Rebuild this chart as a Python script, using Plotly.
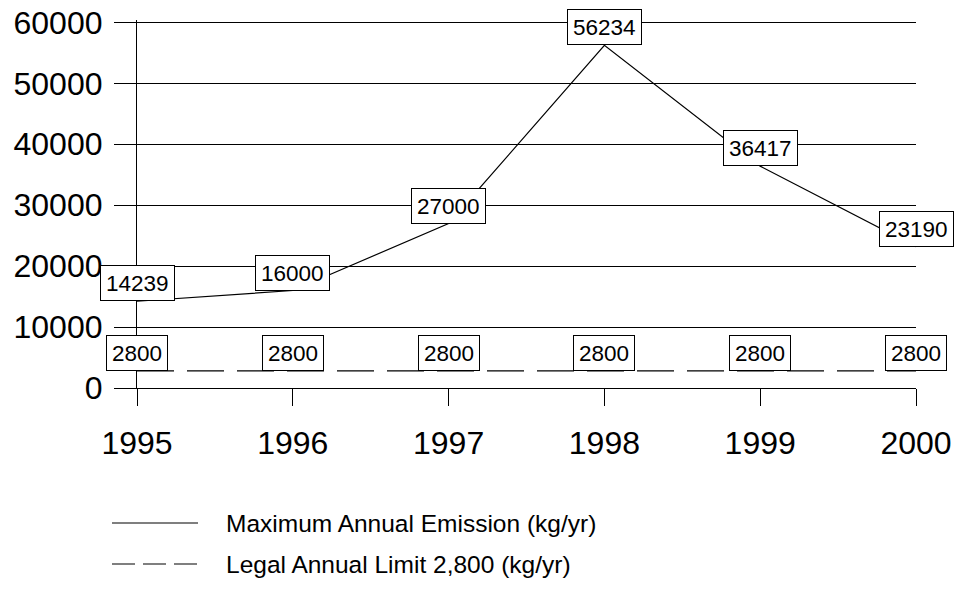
import plotly.graph_objects as go

years = [1995, 1996, 1997, 1998, 1999, 2000]
max_emission = [14239, 16000, 27000, 56234, 36417, 23190]
legal_limit = [2800, 2800, 2800, 2800, 2800, 2800]
y_ticks = [0, 10000, 20000, 30000, 40000, 50000, 60000]
series_names = ["Maximum Annual Emission (kg/yr)", "Legal Annual Limit 2,800 (kg/yr)"]

FONT = "Arial, Liberation Sans, sans-serif"
W, H = 957, 596
ML, MR, MT, MB = 137, 41, 20, 208
PW, PH = W - ML - MR, H - MT - MB


def px_x(p):
    return (p - ML) / PW


def px_y(p):
    return (H - MB - p) / PH


fig = go.Figure()
fig.add_trace(go.Scatter(
    x=years, y=max_emission, mode="lines", name=series_names[0],
    line=dict(color="black", width=1.2), showlegend=False))
fig.add_trace(go.Scatter(
    x=years, y=legal_limit, mode="lines", name=series_names[1],
    line=dict(color="black", width=1.2, dash="37px,13px"), showlegend=False))

for xs, ys in [(years, max_emission), (years, legal_limit)]:
    for xv, yv in zip(xs, ys):
        txt = str(yv)
        fig.add_annotation(
            x=xv, y=yv, text=txt, showarrow=False,
            xanchor="center", yanchor="bottom",
            font=dict(family=FONT, size=22.5, color="black"),
            width=len(txt) * 12.5 + 2, height=26,
            bgcolor="white", bordercolor="black", borderwidth=1, borderpad=4)

# legend (line samples + labels)
legend_rows = [(523, None), (564, "23px,8px")]
for (yy, dash), name in zip(legend_rows, series_names):
    fig.add_shape(type="line", xref="paper", yref="paper",
                  x0=px_x(112), x1=px_x(198), y0=px_y(yy), y1=px_y(yy),
                  line=dict(color="black", width=1.2, dash=dash))
    fig.add_annotation(xref="paper", yref="paper", x=px_x(224), y=px_y(yy),
                       text=name, showarrow=False, xanchor="left", yanchor="middle",
                       font=dict(family=FONT, size=24.5, color="black"))

fig.update_layout(
    width=W, height=H,
    margin=dict(l=ML, r=MR, t=MT, b=MB, autoexpand=False),
    paper_bgcolor="white", plot_bgcolor="white",
    font=dict(family=FONT, color="black"),
    showlegend=False,
    xaxis=dict(
        range=[1995, 2000], tickmode="array", tickvals=years,
        ticktext=[str(y) for y in years],
        showgrid=False, zeroline=False,
        showline=True, linecolor="black", linewidth=1.2,
        ticks="outside", ticklen=17, tickcolor="black", tickwidth=1.2,
        tickfont=dict(family=FONT, size=32, color="black"),
        ticklabelstandoff=9,
    ),
    yaxis=dict(
        range=[0, 60400], tickmode="array", tickvals=y_ticks,
        ticktext=[str(v) for v in y_ticks],
        showgrid=True, gridcolor="black", gridwidth=1.2,
        zeroline=False,
        showline=True, linecolor="black", linewidth=1.2,
        ticks="outside", ticklen=22, tickcolor="black", tickwidth=1.2,
        tickfont=dict(family=FONT, size=32, color="black"),
        ticklabelstandoff=5,
    ),
)

fig.write_html("out.html", config={"displayModeBar": False},
               post_script="document.body.style.margin='0';")
